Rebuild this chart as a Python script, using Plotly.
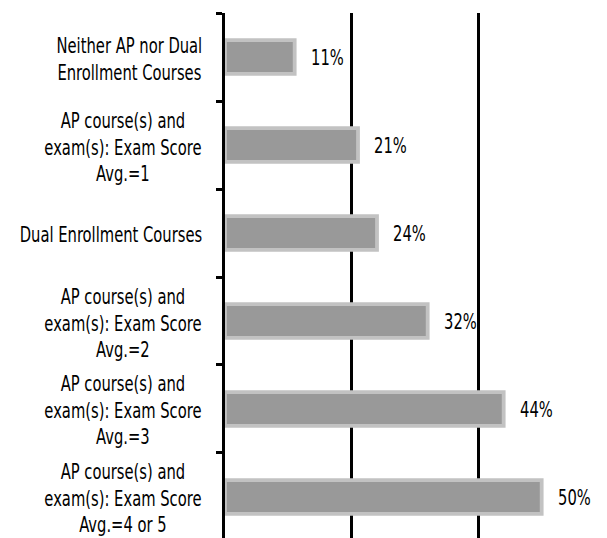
import plotly.graph_objects as go

categories = [
    "Neither AP nor Dual<br>Enrollment Courses",
    "AP course(s) and<br>exam(s): Exam Score<br>Avg.=1",
    "Dual Enrollment Courses",
    "AP course(s) and<br>exam(s): Exam Score<br>Avg.=2",
    "AP course(s) and<br>exam(s): Exam Score<br>Avg.=3",
    "AP course(s) and<br>exam(s): Exam Score<br>Avg.=4 or 5",
]
values = [11, 21, 24, 32, 44, 50]
value_labels = ["11%", "21%", "24%", "32%", "44%", "50%"]

FONT = "DejaVu Sans Condensed, Roboto, sans-serif"
FSIZE = 20.5

fig = go.Figure(
    go.Bar(
        x=values,
        y=categories,
        orientation="h",
        marker=dict(color="#999999", line=dict(color="#c2c2c2", width=3.8)),
        width=0.385,
        hoverinfo="skip",
    )
)

annotations = []
for v, t, c in zip(values, value_labels, categories):
    annotations.append(dict(
        x=v, y=c, xref="x", yref="y", text=t, showarrow=False,
        xanchor="left", xshift=14, yshift=-1,
        font=dict(family=FONT, size=FSIZE, color="black"),
    ))
for c in categories:
    annotations.append(dict(
        x=0, y=c, xref="paper", yref="y", text=c, showarrow=False,
        xanchor="right", xshift=-21, yshift=-2, align="center",
        font=dict(family=FONT, size=FSIZE, color="black"),
    ))

fig.update_layout(
    width=607, height=538,
    margin=dict(l=225, r=2, t=13, b=0),
    paper_bgcolor="white", plot_bgcolor="white",
    showlegend=False,
    annotations=annotations,
    xaxis=dict(
        range=[0, 60], tickvals=[20, 40, 60], showticklabels=False,
        showgrid=True, gridcolor="black", gridwidth=3, zeroline=False,
        ticks="", showline=False, fixedrange=True,
    ),
    yaxis=dict(
        range=[5.466, -0.5], showticklabels=False,
        showline=True, linecolor="black", linewidth=3,
        ticks="outside", tickson="boundaries", ticklen=6, tickwidth=3,
        tickcolor="black", showgrid=False,
    ),
)

# Narrow the text horizontally (condensed typeface look); text stays real text.
post = """
(function(){
  var gd = document.getElementById('{plot_id}');
  var nVal = %d;
  var SX = 0.8;
  function squeeze(){
    gd.querySelectorAll('g.annotation').forEach(function(g){
      var idx = parseInt(g.getAttribute('data-index'));
      var t = g.querySelector('text.annotation-text');
      if(!t || t.getAttribute('data-sq')) return;
      var b = t.getBBox();
      var ax = (idx < nVal) ? b.x : (b.x + b.width);
      var prev = t.getAttribute('transform') || '';
      t.setAttribute('transform', prev + ' translate(' + ax + ',0) scale(' + SX + ',1) translate(' + (-ax) + ',0)');
      t.setAttribute('data-sq', '1');
    });
  }
  squeeze();
  if(gd.on) gd.on('plotly_afterplot', squeeze);
})();
""" % len(values)

fig.write_html("out.html", post_script=post)
